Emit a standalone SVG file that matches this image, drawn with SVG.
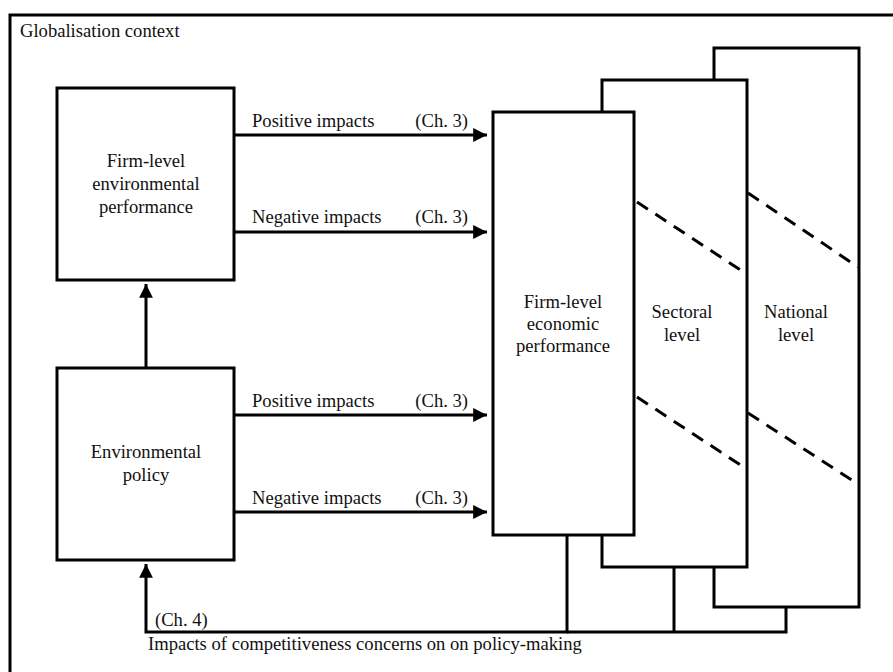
<svg xmlns="http://www.w3.org/2000/svg" width="893" height="672" viewBox="0 0 893 672">
<style>
text{font-family:"Liberation Serif","Times New Roman","DejaVu Serif",serif;font-size:18.6px;fill:#111}
.c{text-anchor:middle}
.box{fill:#fff;stroke:#000;stroke-width:3}
.ln{fill:none;stroke:#000;stroke-width:3}
.dash{fill:none;stroke:#000;stroke-width:3;stroke-dasharray:13 9}
</style>
<defs>
<marker id="ah" viewBox="0 0 10 10" refX="10" refY="5" markerWidth="5" markerHeight="4.6" markerUnits="strokeWidth" orient="auto">
<path d="M0,0 L10,5 L0,10 Z" fill="#000"/>
</marker>
</defs>
<rect x="0" y="0" width="893" height="672" fill="#fff"/>
<g id="frame">
<rect x="10" y="15" width="900" height="680" fill="none" stroke="#000" stroke-width="3"/>
<text x="20" y="37">Globalisation context</text>
</g>
<g id="national">
<rect class="box" x="714" y="48" width="145" height="559"/>
<line class="dash" x1="748" y1="193" x2="858" y2="267"/>
<line class="dash" x1="748" y1="413" x2="858" y2="484"/>
<text class="c" x="796" y="318">National</text>
<text class="c" x="796" y="341">level</text>
</g>
<g id="sectoral">
<rect class="box" x="602" y="80" width="145" height="487"/>
<line class="dash" x1="637" y1="202" x2="745" y2="273"/>
<line class="dash" x1="637" y1="397" x2="745" y2="468"/>
<text class="c" x="682" y="318">Sectoral</text>
<text class="c" x="682" y="341">level</text>
</g>
<g id="firm-econ">
<rect class="box" x="493" y="112" width="141" height="423"/>
<text class="c" x="563" y="308">Firm-level</text>
<text class="c" x="563" y="330">economic</text>
<text class="c" x="563" y="352">performance</text>
</g>
<g id="firm-env">
<rect class="box" x="57" y="88" width="177" height="192"/>
<text class="c" x="146" y="167">Firm-level</text>
<text class="c" x="146" y="190">environmental</text>
<text class="c" x="146" y="213">performance</text>
</g>
<g id="env-policy">
<rect class="box" x="57" y="368" width="177" height="192"/>
<text class="c" x="146" y="458">Environmental</text>
<text class="c" x="146" y="481">policy</text>
</g>
<g id="connectors">
<line class="ln" x1="146" y1="368" x2="146" y2="284" marker-end="url(#ah)"/>
<line class="ln" x1="234" y1="135" x2="487" y2="135" marker-end="url(#ah)"/>
<line class="ln" x1="234" y1="232" x2="487" y2="232" marker-end="url(#ah)"/>
<line class="ln" x1="234" y1="415" x2="487" y2="415" marker-end="url(#ah)"/>
<line class="ln" x1="234" y1="512" x2="487" y2="512" marker-end="url(#ah)"/>
<polyline class="ln" points="567,535 567,632 146,632 146,564" marker-end="url(#ah)"/>
<polyline class="ln" points="567,632 786,632 786,607"/>
<line class="ln" x1="674" y1="567" x2="674" y2="632"/>
<text x="252" y="127">Positive impacts</text>
<text x="468" y="127" text-anchor="end">(Ch. 3)</text>
<text x="252" y="223">Negative impacts</text>
<text x="468" y="223" text-anchor="end">(Ch. 3)</text>
<text x="252" y="407">Positive impacts</text>
<text x="468" y="407" text-anchor="end">(Ch. 3)</text>
<text x="252" y="504">Negative impacts</text>
<text x="468" y="504" text-anchor="end">(Ch. 3)</text>
<text x="155" y="626">(Ch. 4)</text>
<text x="148" y="650">Impacts of competitiveness concerns on on policy-making</text>
</g>
</svg>
